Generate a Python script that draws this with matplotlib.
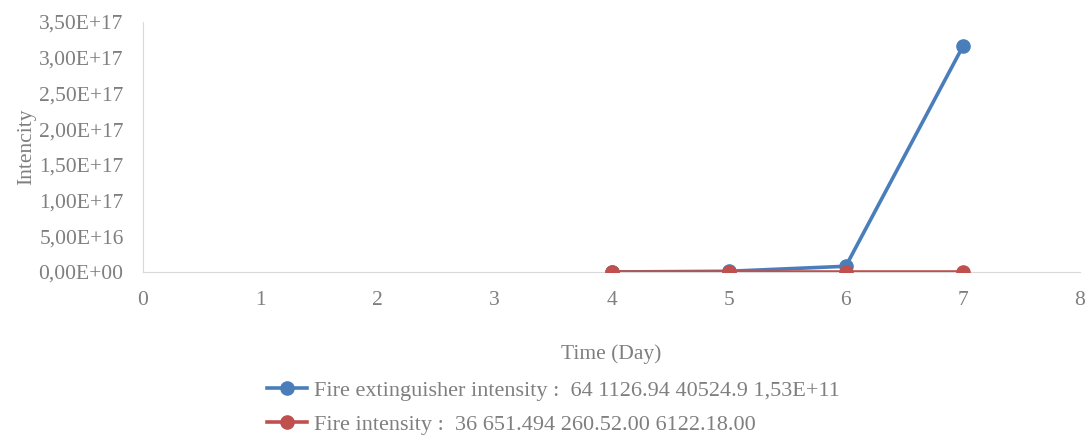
import matplotlib
matplotlib.use("Agg")
import matplotlib.pyplot as plt
from matplotlib.ticker import FuncFormatter, MultipleLocator

plt.rcParams['font.family'] = ['Liberation Serif', 'DejaVu Serif']

days = [4, 5, 6, 7]
extinguisher = [64, 1.0e15, 8.0e15, 3.16e17]
fire = [36, 651.494, 260520, 6122180]

label_ext = "Fire extinguisher intensity :  64 1126.94 40524.9 1,53E+11"
label_fire = "Fire intensity :  36 651.494 260.52.00 6122.18.00"

grey = "#7f7f7f"
blue = "#4a7ebb"
red = "#c0504d"

fig = plt.figure(figsize=(10.86, 4.37), dpi=100)
ax = fig.add_axes([0.1317, 0.3776, 0.8628, 0.572])

ax.plot(days, extinguisher, color=blue, lw=2.6, marker="o", ms=9.5, label=label_ext, zorder=3)
ax.plot(days, fire, color=red, lw=2.6, marker="o", ms=9.5, label=label_fire, zorder=4)

ax.set_xlim(0, 8)
ax.set_ylim(0, 3.5e17)
ax.xaxis.set_major_locator(MultipleLocator(1))
ax.yaxis.set_major_locator(MultipleLocator(5e16))

def sci_comma(v, pos):
    s = "%.2E" % v
    return s.replace(".", ",")

ax.yaxis.set_major_formatter(FuncFormatter(sci_comma))

for side in ["top", "right"]:
    ax.spines[side].set_visible(False)
ax.spines["left"].set_color("#d9d9d9")
ax.spines["bottom"].set_color("#d9d9d9")
ax.tick_params(length=0, colors=grey, labelsize=15.5)
ax.tick_params(axis="x", pad=14)
ax.tick_params(axis="y", pad=14)

ax.set_xlabel("Time (Day)", color=grey, fontsize=15.5, labelpad=24)
ax.set_ylabel("Intencity", color=grey, fontsize=15.5, labelpad=2)

leg = fig.legend(loc="upper left", bbox_to_anchor=(0.238, 0.15), frameon=False,
                 fontsize=16, labelcolor=grey, handlelength=1.8, handletextpad=0.3,
                 labelspacing=0.6, borderaxespad=0)

fig.savefig("out.png", dpi=100)
